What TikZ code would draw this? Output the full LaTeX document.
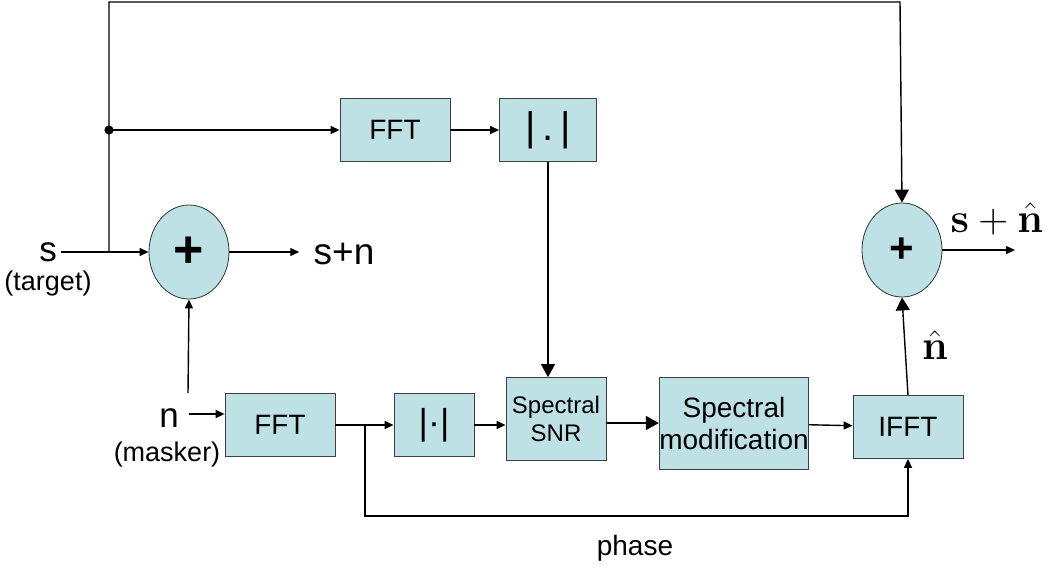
\documentclass[tikz,border=0pt]{standalone}
\usepackage[no-math]{fontspec}
\setmainfont{Liberation Sans}
\usepackage{xcolor}
\usetikzlibrary{arrows.meta,positioning,shapes.geometric}
\definecolor{boxfill}{RGB}{189,225,228}

\begin{document}
\begin{tikzpicture}[
  x=0.5pt, y=-0.5pt,
  blk/.style={draw=black!75, fill=boxfill, inner sep=0pt, align=center,
    font=\fontsize{14}{16}\selectfont},
  sum/.style={draw=black!80, fill=boxfill, ellipse, inner sep=0pt,
    minimum width=40pt, minimum height=47pt, font=\bfseries},
  lbl/.style={inner sep=2pt},
  arr/.style={-{Triangle[length=4.5pt, width=4pt]}, line width=0.7pt},
  arrbig/.style={-{Triangle[length=6.5pt, width=7pt]}, line width=0.7pt}
]
  \useasboundingbox (0,0) rectangle (1050,569);

  % blocks
  \node[blk, minimum width=55pt, minimum height=31.5pt] (fft1) at (395,130) {FFT};
  \node[blk, minimum width=48.5pt, minimum height=31.5pt,
    font=\fontsize{20}{22}\selectfont] (abs1) at (548,130) {|\,.\,|};
  \node[blk, minimum width=55pt, minimum height=31.5pt] (fft2) at (280,425) {FFT};
  \node[blk, minimum width=40pt, minimum height=31.5pt,
    font=\fontsize{18}{20}\selectfont] (abs2) at (434,425) {|·|};
  \node[blk, minimum width=50pt, minimum height=41.5pt,
    font=\fontsize{12}{14}\selectfont] (snr) at (556,419) {Spectral\\SNR};
  \node[blk, minimum width=73pt, minimum height=46pt] (mod) at (734,423) {Spectral\\modification};
  \node[blk, minimum width=55pt, minimum height=31.5pt] (ifft) at (908,427) {IFFT};

  % adders
  \node[sum, font=\fontsize{26}{26}\bfseries\selectfont] (sum1) at (189,252) {+};
  \node[sum, font=\fontsize{21}{21}\bfseries\selectfont] (sum2) at (902,250) {+};

  % labels
  \node[lbl, font=\fontsize{17.5}{20}\selectfont] (s) at (48,252) {s};
  \node[lbl, font=\fontsize{13.5}{16}\selectfont] (tgt) at (48,284) {(target)};
  \node[lbl, font=\fontsize{17.5}{20}\selectfont] (n) at (169,418) {n};
  \node[lbl, font=\fontsize{13.5}{16}\selectfont] (msk) at (167,455) {(masker)};
  \node[lbl, font=\fontsize{18.5}{21}\selectfont] (sn) at (344,254) {s+n};
  \node[lbl, font=\fontsize{21.5}{24}\selectfont] (out) at (997,219) {$\mathbf{s}+\hat{\mathbf{n}}$};
  \node[lbl, font=\fontsize{21.5}{24}\selectfont] (nhat) at (935,345) {$\hat{\mathbf{n}}$};
  \node[lbl, font=\fontsize{14}{16}\selectfont] (phase) at (635,548) {phase};

  % junctions
  \coordinate (js) at (109,252);
  \coordinate (dot) at (109,130);
  \coordinate (top) at (900,2);
  \coordinate (jp) at (365,425);
  \coordinate (pb) at (365,516);
  \coordinate (oend) at (1015,250);
  \coordinate (nup) at (188,393);

  \fill (dot) circle (2.3pt);

  % connectors
  \draw[arr] (s.east) -- (sum1.west);
  \draw[arr, shorten >=5pt] (sum1.east) -- (sum1.east -| sn.west);
  \draw[arrbig] (js) |- (top) -- (sum2.north);
  \draw[arr] (dot) -- (fft1);
  \draw[arr] (fft1) -- (abs1);
  \draw[arrbig] (abs1.south) -- (abs1.south |- snr.north);
  \draw[arr] (nup) -- (sum1.south);
  \draw[arr] (n.east) ++(3pt,2pt) coordinate (nr) -- (nr -| fft2.west);
  \draw[arr] (fft2) -- (abs2);
  \draw[arr] (abs2) -- (abs2.east -| snr.west);
  \draw[arrbig] (snr.east |- mod.west) -- (mod.west);
  \draw[arr] (mod) -- (ifft);
  \draw[arr] (jp) -- (pb) -| (ifft.south);
  \draw[arrbig] (ifft.north) -- (sum2.south);
  \draw[arr] (sum2.east) -- (oend);
\end{tikzpicture}
\end{document}
